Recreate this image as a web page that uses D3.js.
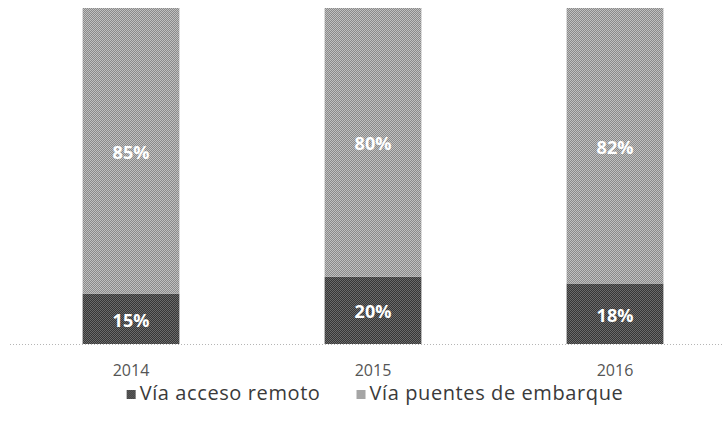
<!DOCTYPE html>
<html>
<head>
<meta charset="utf-8">
<script src="https://cdn.jsdelivr.net/npm/d3@7"></script>
<style>
  html, body { margin: 0; padding: 0; background: #fff; }
  svg { display: block; }
</style>
</head>
<body>
<svg id="chart" width="722" height="431"></svg>
<script>
const years = ["2014", "2015", "2016"];
const remoto = [15, 20, 18];
const puentes = [85, 80, 82];
const seriesNames = ["Vía acceso remoto", "Vía puentes de embarque"];

const W = 722, H = 431;
const svg = d3.select("#chart");

// dithered patterns imitating the scanned texture
const defs = svg.append("defs");
function checker(id, a, b) {
  const p = defs.append("pattern").attr("id", id)
    .attr("width", 2).attr("height", 2).attr("patternUnits", "userSpaceOnUse");
  p.append("rect").attr("width", 2).attr("height", 2).attr("fill", a);
  p.append("rect").attr("width", 1).attr("height", 1).attr("fill", b);
  p.append("rect").attr("x", 1).attr("y", 1).attr("width", 1).attr("height", 1).attr("fill", b);
}
checker("patLight", "#8a8a8a", "#c0c0c0");
checker("patDark", "#363636", "#6a6a6a");
const fills = ["url(#patDark)", "url(#patLight)"];

const x = d3.scaleBand().domain(years).range([10, 736]).paddingInner(0.6).paddingOuter(0.3);
const y = d3.scaleLinear().domain([0, 100]).range([344, 8]);

const rows = years.map((yr, i) => ({ year: yr, remoto: remoto[i], puentes: puentes[i] }));
const stack = d3.stack().keys(["remoto", "puentes"]);
const layers = stack(rows);

// baseline axis (dotted)
const axis = d3.axisBottom(x).tickSize(0).tickPadding(21);
const gAxis = svg.append("g").attr("transform", `translate(0,${y(0)})`).call(axis);
gAxis.select(".domain").remove();
gAxis.append("line").attr("x1", 10).attr("x2", 722).attr("y1", 0.5).attr("y2", 0.5)
  .attr("stroke", "#b5b5b5").attr("stroke-dasharray", "1,2");
gAxis.selectAll(".tick text")
  .attr("font-family", "'Open Sans', sans-serif").attr("font-size", 16)
  .attr("fill", "#555");

// bars
layers.forEach((layer, li) => {
  const g = svg.append("g");
  g.selectAll("rect").data(layer).join("rect")
    .attr("x", d => x(d.data.year))
    .attr("width", x.bandwidth())
    .attr("y", d => y(d[1]))
    .attr("height", d => y(d[0]) - y(d[1]))
    .attr("fill", fills[li]);
  g.selectAll("text").data(layer).join("text")
    .attr("x", d => x(d.data.year) + x.bandwidth() / 2)
    .attr("y", d => (y(d[0]) + y(d[1])) / 2 + 3)
    .attr("text-anchor", "middle").attr("dominant-baseline", "middle")
    .attr("font-family", "'Open Sans', sans-serif").attr("font-weight", "bold")
    .attr("font-size", 18).attr("fill", "#fff")
    .text(d => (d[1] - d[0]) + "%");
});

// legend
const legend = svg.append("g");
let cx = 0;
const gap = 36;
seriesNames.forEach((name, i) => {
  const item = legend.append("g").attr("transform", `translate(${cx},0)`);
  item.append("rect").attr("x", 0).attr("y", -5).attr("width", 9).attr("height", 9).attr("fill", fills[i]);
  const t = item.append("text").attr("x", 13).attr("y", 0)
    .attr("dominant-baseline", "middle")
    .attr("font-family", "'Open Sans', sans-serif").attr("font-size", 20)
    .attr("letter-spacing", 0.6).attr("fill", "#3a3a3a")
    .text(name);
  cx += 13 + t.node().getComputedTextLength() + gap;
});
const legW = cx - gap;
legend.attr("transform", `translate(${(125 + 625) / 2 - legW / 2},395)`);
</script>
</body>
</html>
